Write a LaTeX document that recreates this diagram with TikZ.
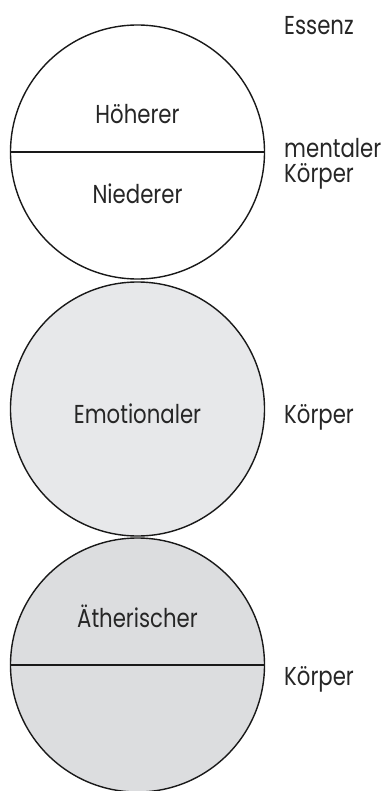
\documentclass[tikz,border=0pt]{standalone}
\usepackage{fontspec}
\setmainfont{Poppins}[FakeStretch=0.82]
\begin{document}
\begin{tikzpicture}[x=1bp,y=-1bp,
  ring/.style={circle,draw=black!90,line width=1.4bp,minimum size=254bp,inner sep=0pt},
  lbl/.style={font=\fontsize{26}{28}\selectfont,text=black!85,inner sep=0pt},
  divider/.style={draw=black!90,line width=1.7bp}]
\useasboundingbox (0,0) rectangle (382,791);
\node[ring,fill=white] (c1) at (137.5,152) {};
\node[ring,fill={rgb,255:red,231;green,232;blue,234}] (c2) at (137.5,409) {};
\node[ring,fill={rgb,255:red,220;green,221;blue,223}] (c3) at (137.5,665) {};
\draw[divider] (c1.west) -- (c1.east);
\draw[divider] (c3.west) -- (c3.east);
\node[lbl,anchor=base] (hoeh) at (137.5,123) {Höherer};
\node[lbl,anchor=base] (nied) at (137.5,203) {Niederer};
\node[lbl,anchor=base] (emo) at (137.5,423) {Emotionaler};
\node[lbl,anchor=base] (aeth) at (137.5,627) {Ätherischer};
\node[lbl,anchor=base west] (ess) at (284,35) {Essenz};
\node[lbl,anchor=base west] (ment) at (284,157) {mentaler};
\node[lbl,anchor=base west] (k1) at (284,182) {Körper};
\node[lbl,anchor=base west] (k2) at (284,423) {Körper};
\node[lbl,anchor=base west] (k3) at (284,685) {Körper};
\end{tikzpicture}
\end{document}
